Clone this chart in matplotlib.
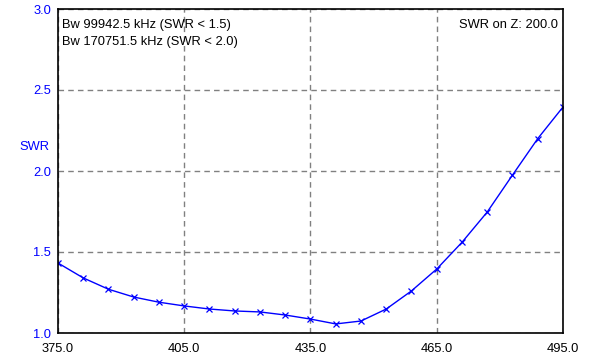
import matplotlib
matplotlib.use('Agg')
import matplotlib.pyplot as plt

# frequency (MHz) and SWR
freq = [375, 381, 387, 393, 399, 405, 411, 417, 423, 429, 435,
        441, 447, 453, 459, 465, 471, 477, 483, 489, 495]
swr = [1.432, 1.34, 1.27, 1.222, 1.19, 1.167, 1.148, 1.136, 1.13, 1.111, 1.086,
       1.056, 1.074, 1.148, 1.26, 1.395, 1.56, 1.747, 1.975, 2.20, 2.395]

x_ticks = [375, 405, 435, 465, 495]
y_ticks = [1.0, 1.5, 2.0, 2.5, 3.0]

plt.rcParams['font.family'] = ['Liberation Sans', 'DejaVu Sans']

fig = plt.figure(figsize=(6.12, 3.61), dpi=100)
ax = fig.add_axes([58/612, 28/361, 505/612, 324/361])

ax.plot(freq, swr, color='#0000ff', linewidth=1.0, marker='x',
        markersize=5, markeredgewidth=0.9)

ax.set_xlim(375, 495)
ax.set_ylim(1.0, 3.0)
ax.set_xticks(x_ticks)
ax.set_xticklabels([f'{v:.1f}' for v in x_ticks])
ax.set_yticks(y_ticks)
ax.set_yticklabels([f'{v:.1f}' for v in y_ticks])
ax.tick_params(axis='both', length=0, labelsize=9.3)
ax.tick_params(axis='x', pad=7, labelcolor='black')
ax.tick_params(axis='y', pad=5, labelcolor='#0000ff')

ax.grid(True, color='#808080', linestyle=(0, (4, 3)), linewidth=1.0)
for s in ax.spines.values():
    s.set_color('black')
    s.set_linewidth(1.2)

fig.text(34/612, 1 - 147/361, 'SWR', color='#0000ff', fontsize=9.3,
         ha='center', va='center')

# annotations inside the plot, positioned in pixels of the figure
fig.text(62/612, 1 - 25/361, 'Bw 99942.5 kHz (SWR < 1.5)',
         ha='left', va='center', fontsize=9.3)
fig.text(62/612, 1 - 42/361, 'Bw 170751.5 kHz (SWR < 2.0)',
         ha='left', va='center', fontsize=9.3)
fig.text(558/612, 1 - 25/361, 'SWR on Z: 200.0',
         ha='right', va='center', fontsize=9.3)

fig.savefig('out.png', dpi=100)
